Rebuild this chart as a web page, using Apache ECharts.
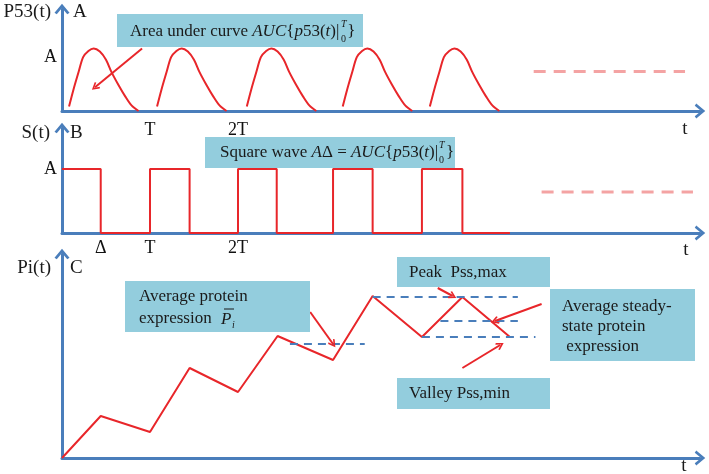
<!DOCTYPE html>
<html>
<head>
<meta charset="utf-8">
<script src="https://cdn.jsdelivr.net/npm/echarts@6/dist/echarts.min.js"></script>
<style>
  html, body { margin: 0; padding: 0; background: #fff; }
  #chart { width: 709px; height: 474px; }
</style>
</head>
<body>
<div id="chart"></div>
<script>
// time is in units of the period T

// A: p53 pulses
const pulseStarts = [0.08, 1.08, 2.10, 3.19, 4.18]
const pulseShape = [
  [0, 0.07], [0.05, 0.34], [0.11, 0.63], [0.16, 0.86], [0.22, 0.96], [0.28, 1.0],
  [0.35, 0.95], [0.42, 0.82], [0.48, 0.63], [0.56, 0.42], [0.64, 0.23], [0.71, 0.09], [0.79, 0.0],
]
const p53Steady = [[5.36, 0.63], [7.08, 0.63]]
const aTickValues = [1, 2]
const aTickLabels = ['T', '2T']

// B: square wave
const squareWave = [[0, 1], [0.44, 0], [1, 1], [1.45, 0], [2, 1], [2.44, 0], [3.08, 1], [3.53, 0], [4.09, 1], [4.55, 0], [5.09, 0]]
const sSteady = [[5.45, 0.64], [7.17, 0.64]]
const bTickValues = [0.44, 1, 2]
const bTickLabels = ['Δ', 'T', '2T']

// C: protein expression
const proteinTimes = [0, 0.44, 1.0, 1.45, 2.0, 2.45, 3.08, 3.53, 4.09, 4.55, 5.09]
const proteinValues = [0, 4.2, 2.6, 9.0, 6.6, 12.2, 9.8, 16.2, 12.1, 16.1, 12.1]
const avgLine = [[2.59, 11.4], [3.44, 11.4]]
const peakLine = [[3.53, 16.1], [5.18, 16.1]]
const midLine = [[4.30, 13.7], [5.18, 13.7]]
const valleyLine = [[4.09, 12.1], [5.38, 12.1]]

const arrowsA = [[[0.91, 1.0], [0.375, 0.38]]]
const arrowsC = [
  [[2.82, 14.6], [3.08, 11.4]],
  [[4.27, 17.0], [4.44, 16.2]],
  [[5.45, 15.4], [4.92, 13.7]],
  [[4.55, 9.0], [4.98, 11.3]],
]

const red = '#e8262a'
const blue = '#4a7ebb'
const boxFill = '#93cddd'
const serif = 'Liberation Serif'
const chevron = 'path://M0,12L10,0L20,12L17,14L10,5.5L3,14Z'

const axisLine = {
  show: true,
  lineStyle: { color: blue, width: 3 },
  symbol: ['none', chevron],
  symbolSize: [15, 11],
}

function xAxis(gridIndex, values, labels, margin) {
  return {
    gridIndex, type: 'value', min: 0, max: 7.25,
    axisLine, axisTick: { show: false }, splitLine: { show: false },
    axisLabel: values ? {
      customValues: values,
      formatter: v => labels[values.indexOf(v)],
      fontFamily: serif, fontSize: 18, color: '#111', margin,
    } : { show: false },
  }
}

function yAxis(gridIndex, max, labelAt) {
  return {
    gridIndex, type: 'value', min: 0, max,
    axisLine, axisTick: { show: false }, splitLine: { show: false },
    axisLabel: labelAt ? {
      customValues: [labelAt],
      formatter: () => 'A',
      fontFamily: serif, fontSize: 18, color: '#111', margin: 5,
    } : { show: false },
  }
}

function dashed(data, xi, color, width, dash) {
  return {
    type: 'line', xAxisIndex: xi, yAxisIndex: xi, data, symbol: 'none',
    lineStyle: { color, width, type: dash }, z: 3, silent: true,
  }
}

function arrows(list, xi) {
  return {
    type: 'lines', coordinateSystem: 'cartesian2d', xAxisIndex: xi, yAxisIndex: xi,
    data: list.map(c => ({ coords: c })),
    symbol: ['none', chevron], symbolSize: [10, 8],
    lineStyle: { color: red, width: 2, opacity: 1, curveness: 0 }, z: 5,
  }
}

const pulseSeries = pulseStarts.map(s => ({
  type: 'line', xAxisIndex: 0, yAxisIndex: 0, symbol: 'none', smooth: 0.3,
  data: pulseShape.map(([dx, v]) => [s + dx, v]),
  lineStyle: { color: red, width: 2 },
}))

function text(x, y, t, extra) {
  return {
    type: 'text', x, y, z: 20,
    style: Object.assign({ text: t, fontFamily: serif, fontSize: 17, fill: '#1a1a1a', verticalAlign: 'middle' }, extra || {}),
  }
}
function box(x, y, w, h) {
  return { type: 'rect', z: 10, shape: { x, y, width: w, height: h }, style: { fill: boxFill } }
}

const rich = {
  i: { fontFamily: serif, fontSize: 17, fontStyle: 'italic', fill: '#1a1a1a' },
  g: { width: 8 },
}

const chart = echarts.init(document.getElementById('chart'))
chart.setOption({
  animation: false,
  grid: [
    { left: 62, top: 9, width: 638, height: 102 },
    { left: 62, top: 128, width: 638, height: 105 },
    { left: 62, top: 254, width: 638, height: 204 },
  ],
  xAxis: [
    xAxis(0, aTickValues, aTickLabels, 10),
    xAxis(1, bTickValues, bTickLabels, 6),
    xAxis(2, null),
  ],
  yAxis: [
    yAxis(0, 1.63, 0.86),
    yAxis(1, 1.64, 1),
    yAxis(2, 20.4, null),
  ],
  series: [
    ...pulseSeries,
    dashed(p53Steady, 0, '#f4a3a3', 3, [12, 8]),
    arrows(arrowsA, 0),
    {
      type: 'line', xAxisIndex: 1, yAxisIndex: 1, symbol: 'none', step: 'end',
      data: squareWave, lineStyle: { color: red, width: 2 },
    },
    dashed(sSteady, 1, '#f4a3a3', 3, [12, 8]),
    {
      type: 'line', xAxisIndex: 2, yAxisIndex: 2, symbol: 'none',
      data: proteinTimes.map((t, i) => [t, proteinValues[i]]),
      lineStyle: { color: red, width: 2 },
    },
    dashed(avgLine, 2, blue, 2, [8, 6]),
    dashed(peakLine, 2, blue, 2, [8, 6]),
    dashed(midLine, 2, blue, 2, [8, 6]),
    dashed(valleyLine, 2, blue, 2, [8, 6]),
    arrows(arrowsC, 2),
  ],
  graphic: [
    // panel labels
    text(51, 12, 'P53(t)', { fontSize: 19, align: 'right' }),
    text(73, 12, 'A', { fontSize: 19 }),
    text(50, 133, 'S(t)', { fontSize: 19, align: 'right' }),
    text(70, 133, 'B', { fontSize: 19 }),
    text(51, 268, 'Pi(t)', { fontSize: 19, align: 'right' }),
    text(70, 268, 'C', { fontSize: 19 }),
    text(685, 129, 't', { fontSize: 19, align: 'center' }),
    text(686, 250, 't', { fontSize: 19, align: 'center' }),
    text(684, 466, 't', { fontSize: 19, align: 'center' }),

    // A annotation
    box(117, 14, 246, 33),
    text(130, 32, 'Area under curve {i|AUC}{{i|p}53({i|t})|{g|}}', { rich }),
    text(341, 24, 'T', { fontSize: 10, fontStyle: 'italic' }),
    text(341, 39, '0', { fontSize: 10 }),

    // B annotation
    box(205, 137, 250, 31),
    text(220, 153, 'Square wave {i|A}Δ = {i|AUC}{{i|p}53({i|t})|{g|}}', { rich }),
    text(439, 145, 'T', { fontSize: 10, fontStyle: 'italic' }),
    text(439, 160, '0', { fontSize: 10 }),

    // C annotations
    box(125, 281, 185, 51),
    text(139, 297, 'Average protein'),
    text(139, 319, 'expression'),
    text(221, 320, 'P', { fontSize: 17, fontStyle: 'italic' }),
    text(232, 325, 'i', { fontSize: 10, fontStyle: 'italic' }),
    { type: 'line', z: 21, shape: { x1: 224, y1: 309, x2: 234, y2: 309 }, style: { stroke: '#1a1a1a', lineWidth: 1 } },

    box(397, 257, 153, 30),
    text(409, 273, 'Peak  Pss,max'),

    box(550, 289, 145, 72),
    text(562, 307, 'Average steady-'),
    text(562, 327, 'state protein'),
    text(562, 347, ' expression'),

    box(397, 378, 153, 31),
    text(409, 394, 'Valley Pss,min'),
  ],
})
</script>
</body>
</html>
